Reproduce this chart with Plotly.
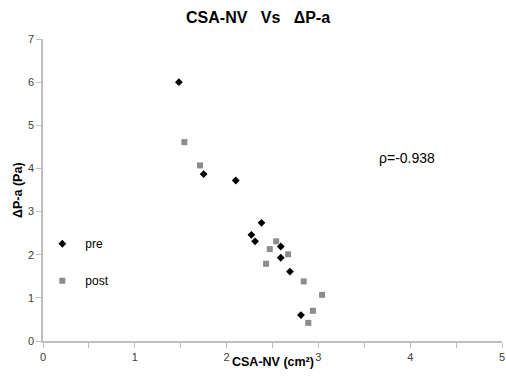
import plotly.graph_objects as go

pre_x = [1.48, 1.75, 2.10, 2.38, 2.27, 2.31, 2.59, 2.59, 2.69, 2.81]
pre_y = [6.00, 3.87, 3.72, 2.74, 2.46, 2.31, 2.19, 1.93, 1.61, 0.60]
post_x = [1.54, 1.71, 2.54, 2.47, 2.67, 2.43, 2.84, 3.04, 2.94, 2.89]
post_y = [4.61, 4.07, 2.31, 2.13, 2.01, 1.79, 1.38, 1.07, 0.70, 0.42]

fig = go.Figure()
fig.add_trace(go.Scatter(x=pre_x, y=pre_y, mode="markers", name="pre", legendgroup="a",
                         marker=dict(symbol="diamond", size=6, color="black")))
fig.add_trace(go.Scatter(x=post_x, y=post_y, mode="markers", name="post", legendgroup="b",
                         marker=dict(symbol="square", size=6, color="#8c8c8c")))

axis_common = dict(showgrid=False, zeroline=False, showline=True, linecolor="#bfbfbf", linewidth=1.5,
                   ticks="outside", ticklen=5, tickcolor="#bfbfbf", automargin=False,
                   tickfont=dict(family="Liberation Sans, Arial", size=11, color="#404040"))

fig.update_layout(
    width=506, height=378,
    paper_bgcolor="white", plot_bgcolor="white",
    margin=dict(l=43, r=4, t=39, b=37),
    font=dict(family="Liberation Sans, Arial", color="black"),
    title=dict(text="<b>CSA-NV   Vs   ΔP-a</b>", x=0.51, xanchor="center", y=0.955, yanchor="middle",
               font=dict(size=16, color="black"), automargin=False),
    xaxis=dict(range=[0, 5], dtick=1,
               minor=dict(dtick=0.5, ticks="outside", ticklen=5, tickcolor="#bfbfbf"), **axis_common),
    yaxis=dict(range=[0, 7], dtick=1, **axis_common),
    legend=dict(x=-0.008, y=0.37, xanchor="left", yanchor="top", bgcolor="rgba(0,0,0,0)",
                font=dict(size=12, color="black"), tracegroupgap=18, itemwidth=36),
    annotations=[
        dict(text="ρ=-0.938", x=0.858, y=0.605, xref="paper", yref="paper",
             showarrow=False, font=dict(size=14, color="black")),
        dict(text="<b>CSA-NV (cm²)</b>", x=0.5, y=-0.0695, xref="paper", yref="paper",
             xanchor="center", yanchor="middle", showarrow=False, font=dict(size=12.5, color="black")),
        dict(text="<b>ΔP-a (Pa)</b>", x=-0.0545, y=0.5, xref="paper", yref="paper", textangle=-90,
             xanchor="center", yanchor="middle", showarrow=False, font=dict(size=12.5, color="black")),
    ],
)

fig.write_html("out.html", config={"displayModeBar": False},
               post_script="document.body.style.margin='0';document.body.style.overflow='hidden';")
